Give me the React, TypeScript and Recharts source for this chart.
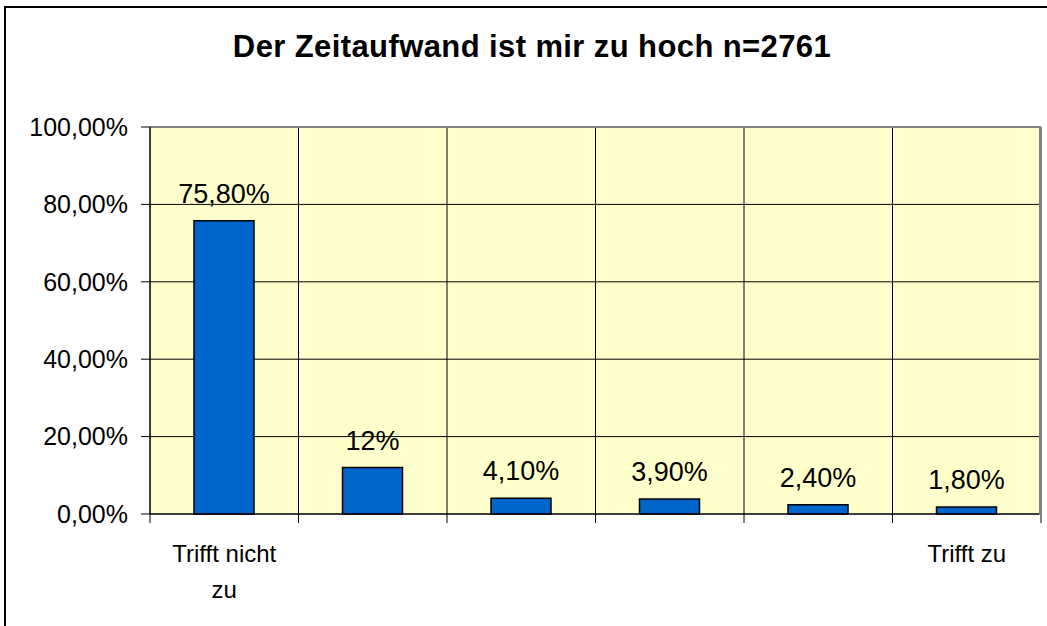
import { BarChart, Bar, XAxis, YAxis, CartesianGrid, LabelList, ReferenceLine } from "recharts";

const categories = ["Trifft nicht zu", "", "", "", "", "Trifft zu"];
const values = [75.8, 12, 4.1, 3.9, 2.4, 1.8];
const valueLabels = ["75,80%", "12%", "4,10%", "3,90%", "2,40%", "1,80%"];
const yTicks = [0, 20, 40, 60, 80, 100];

const data = categories.map((name, i) => ({ name, value: values[i], label: valueLabels[i] }));

const FONT = '"Liberation Sans", Arial, sans-serif';

// category boundaries for the vertical grid lines
const boundaries = ({ offset }: any) =>
  Array.from({ length: categories.length + 1 }, (_, i) => offset.left + (i * offset.width) / categories.length);

// simple word wrap, like Excel does in narrow categories
const wrap = (s: string, max = 12) => {
  const lines: string[] = [];
  let cur = "";
  for (const w of s.split(" ")) {
    if (cur && (cur + " " + w).length > max) {
      lines.push(cur);
      cur = w;
    } else {
      cur = cur ? cur + " " + w : w;
    }
  }
  if (cur) lines.push(cur);
  return lines;
};

const CategoryTick = ({ x, y, payload, index, width, visibleTicksCount }: any) => {
  const band = width / visibleTicksCount;
  const left = x - band / 2;
  const right = x + band / 2;
  const lines = payload.value ? wrap(payload.value) : [];
  return (
    <g>
      <line x1={left} y1={y} x2={left} y2={y + 9} stroke="#000" />
      {index === visibleTicksCount - 1 && <line x1={right} y1={y} x2={right} y2={y + 9} stroke="#000" />}
      {lines.length > 0 && (
        <text x={x} y={y + 48} textAnchor="middle" fontSize={24} fontFamily={FONT} fill="#000">
          {lines.map((l, i) => (
            <tspan key={i} x={x} dy={i === 0 ? 0 : 36}>
              {l}
            </tspan>
          ))}
        </text>
      )}
    </g>
  );
};

const fmtPct = (v: number) => v.toFixed(2).replace(".", ",") + "%";

const App = () => {
  return (
    <div style={{ position: "relative", width: 1047, height: 626, overflow: "hidden", background: "#fff", fontFamily: FONT }}>
      <style>{"body { margin: 0; }"}</style>
      <div
        style={{
          position: "absolute",
          left: 4,
          top: 6,
          width: 1200,
          height: 800,
          borderLeft: "2px solid #000",
          borderTop: "2px solid #000",
        }}
      />
      <BarChart width={1047} height={626} data={data} margin={{ top: 127, right: 6, bottom: 0, left: 0 }}>
        <CartesianGrid fill="#FFFFCC" stroke="#000" strokeOpacity={1} verticalCoordinatesGenerator={boundaries} />
        <XAxis
          dataKey="name"
          height={112}
          axisLine={{ stroke: "#000" }}
          tickLine={false}
          tickSize={0}
          tickMargin={0}
          interval={0}
          tick={<CategoryTick />}
        />
        <YAxis
          width={150}
          domain={[0, 100]}
          ticks={yTicks}
          tickFormatter={fmtPct}
          tickSize={9}
          tickMargin={13}
          axisLine={{ stroke: "#000" }}
          tickLine={{ stroke: "#000" }}
          tick={{ fill: "#000", fontSize: 25, fontFamily: FONT }}
        />
        <ReferenceLine y={100} stroke="#808080" strokeWidth={2} />
        <Bar
          dataKey="value"
          barSize={60}
          fill="#0066CC"
          stroke="#000"
          strokeWidth={1.5}
          isAnimationActive={false}
        >
          <LabelList dataKey="label" position="top" offset={18} fill="#000" fontSize={27} fontFamily={FONT} />
        </Bar>
      </BarChart>
      <div
        style={{
          position: "absolute",
          left: 1039,
          top: 126,
          width: 2,
          height: 389,
          background: "#808080",
        }}
      />
      <svg width={1047} height={100} style={{ position: "absolute", left: 0, top: 0, pointerEvents: "none" }}>
        <text x={532} y={57} textAnchor="middle" fontSize={31} fontWeight="bold" letterSpacing={0.4} fontFamily={FONT} fill="#000">
          Der Zeitaufwand ist mir zu hoch n=2761
        </text>
      </svg>
    </div>
  );
};

export default App;
